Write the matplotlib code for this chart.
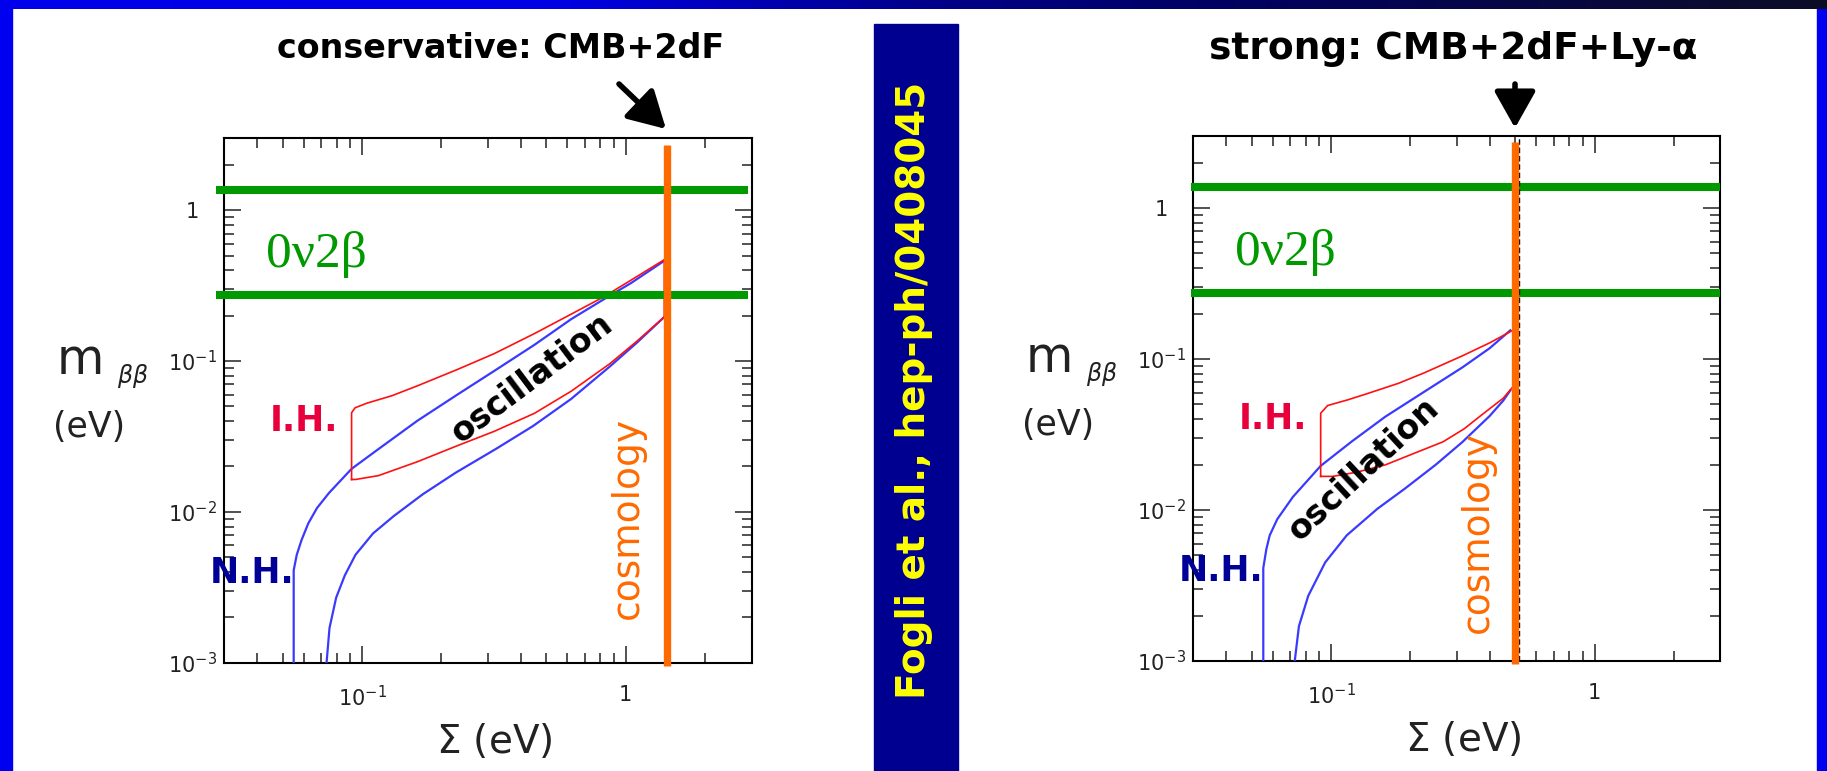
import numpy as np, matplotlib
matplotlib.use('Agg')
import matplotlib.pyplot as plt
from matplotlib.patches import Rectangle

W, H = 1827, 771

# 0nu2beta sensitivity band (eV)
bb_low, bb_high = 0.275, 1.37
# cosmological bounds on the sum of masses (eV)
sum_conservative = 1.43
sum_strong = 0.50
sum_strong_dashed = 0.515

# normal hierarchy band, CMB+2dF panel
nh_hi_cons_sum = [0.055, 0.055, 0.0565, 0.0589, 0.0625, 0.0674, 0.075, 0.0912, 0.115, 0.162, 0.23, 0.317, 0.45, 0.622, 0.82, 1.05, 1.40]
nh_hi_cons_m = [0.001, 0.0041, 0.0052, 0.0065, 0.0084, 0.0106, 0.0134, 0.0193, 0.026, 0.0402, 0.060, 0.086, 0.128, 0.19, 0.255, 0.33, 0.462]
nh_lo_cons_sum = [0.0733, 0.0752, 0.0797, 0.086, 0.0944, 0.11, 0.132, 0.17, 0.2265, 0.32, 0.444, 0.62, 0.87, 1.1, 1.40]
nh_lo_cons_m = [0.001, 0.0017, 0.0027, 0.0038, 0.0052, 0.0072, 0.0094, 0.0131, 0.0182, 0.026, 0.037, 0.056, 0.092, 0.132, 0.196]
# inverted hierarchy contour, CMB+2dF panel
ih_cons_sum = [0.0912, 0.0912, 0.094, 0.104, 0.13, 0.162, 0.23, 0.317, 0.45, 0.622, 0.82, 1.05, 1.40,
	1.40, 1.1, 0.87, 0.62, 0.45, 0.317, 0.2265, 0.162, 0.1154, 0.0944, 0.0912]
ih_cons_m = [0.0164, 0.0454, 0.049, 0.0525, 0.059, 0.0685, 0.088, 0.112, 0.152, 0.205, 0.265, 0.345, 0.47,
	0.196, 0.135, 0.096, 0.063, 0.045, 0.0342, 0.0272, 0.0215, 0.0174, 0.0164, 0.0164]

# normal hierarchy band, CMB+2dF+Ly-alpha panel
nh_hi_strong_sum = [0.0553, 0.0553, 0.0568, 0.0585, 0.0625, 0.0716, 0.0913, 0.12, 0.1606, 0.22, 0.315, 0.4, 0.479]
nh_hi_strong_m = [0.001, 0.00413, 0.0055, 0.0068, 0.0087, 0.0122, 0.0196, 0.0285, 0.0415, 0.059, 0.088, 0.118, 0.155]
nh_lo_strong_sum = [0.0728, 0.0755, 0.0819, 0.095, 0.1147, 0.15, 0.19, 0.25, 0.315, 0.4, 0.45, 0.479]
nh_lo_strong_m = [0.001, 0.0017, 0.0027, 0.0045, 0.0068, 0.0102, 0.0138, 0.020, 0.0282, 0.042, 0.053, 0.062]
# inverted hierarchy contour, CMB+2dF+Ly-alpha panel
ih_strong_sum = [0.0913, 0.0913, 0.097, 0.115, 0.1356, 0.18, 0.2246, 0.315, 0.4, 0.513,
	0.513, 0.45, 0.372, 0.32, 0.266, 0.2, 0.1606, 0.125, 0.1015, 0.0913]
ih_strong_m = [0.0167, 0.0437, 0.0492, 0.0535, 0.0586, 0.069, 0.0807, 0.105, 0.128, 0.162,
	0.0719, 0.055, 0.0425, 0.0345, 0.0283, 0.0232, 0.0199, 0.0178, 0.0167, 0.0167]

x_ticks = [0.1, 1]
x_tick_labels = [r'$10^{-1}$', '1']
y_ticks = [1e-3, 1e-2, 1e-1, 1]
y_tick_labels = [r'$10^{-3}$', r'$10^{-2}$', r'$10^{-1}$', '1']

GREEN = '#009a00'
ORANGE = '#ff6a00'
BLUE = '#3a3aff'
RED = '#ff1010'

def px(x, y):
	# pixel position (from top-left) to figure fraction
	return x / W, 1 - y / H

def draw_background(fig):
	# blue slide frame
	fig.add_artist(Rectangle((0, 0), 12 / W, 1, transform=fig.transFigure, color='#0000f0', zorder=0))
	fig.add_artist(Rectangle((1 - 10 / W, 0), 10 / W, 1, transform=fig.transFigure, color='#0000f0', zorder=0))
	# title bar fading from blue to navy
	bar = fig.add_axes([0, 1 - 9 / H, 1, 9 / H])
	xs = np.linspace(0, 1, 600)
	stops = [0, 0.3, 0.5, 0.65, 1]
	r = np.interp(xs, stops, [0, 0, 0.0, 0.0, 0.05])
	g = np.interp(xs, stops, [0, 0, 0.0, 0.0, 0.05])
	b = np.interp(xs, stops, [0.92, 0.9, 0.55, 0.4, 0.15])
	bar.imshow(np.dstack([r, g, b]), aspect='auto', extent=[0, 1, 0, 1])
	bar.axis('off')
	# reference band in the middle
	fig.add_artist(Rectangle((874 / W, 0), 84 / W, 1 - 24 / H, transform=fig.transFigure, color='#000090', zorder=0))
	x, y = px(914, 390)
	fig.text(x, y, 'Fogli et al., hep-ph/0408045', rotation=90, color='#ffff00', fontsize=28,
		fontweight='bold', ha='center', va='center')

def draw_panel(fig, rect, nh_hi, nh_lo, ih, sum_bound, bb_x, dashed=None):
	ax = fig.add_axes(rect)
	ax.set_xscale('log')
	ax.set_yscale('log')
	ax.set_xlim(0.03, 3)
	ax.set_ylim(1e-3, 3)

	# oscillation bands
	ax.plot(nh_hi[0], nh_hi[1], color=BLUE, lw=1.6, zorder=3)
	ax.plot(nh_lo[0], nh_lo[1], color=BLUE, lw=1.6, zorder=3)
	ax.plot(ih[0], ih[1], color=RED, lw=1.2, zorder=4)

	# 0nu2beta band edges
	for m in (bb_low, bb_high):
		ax.plot(bb_x, [m, m], color=GREEN, lw=5.8, solid_capstyle='butt', clip_on=False, zorder=5)

	# cosmology bound
	if dashed is not None:
		ax.plot([dashed, dashed], [1e-3, 3], color='k', lw=1, ls=(0, (4, 2)), zorder=5)
	ax.plot([sum_bound, sum_bound], [0.00095, 2.72], color=ORANGE, lw=5.3, solid_capstyle='butt',
		clip_on=False, zorder=6)

	ax.set_xticks(x_ticks)
	ax.set_xticklabels(x_tick_labels)
	ax.set_yticks(y_ticks)
	ax.set_yticklabels(y_tick_labels)
	ax.xaxis.set_minor_locator(matplotlib.ticker.LogLocator(base=10, subs=np.arange(2, 10)))
	ax.yaxis.set_minor_locator(matplotlib.ticker.LogLocator(base=10, subs=np.arange(2, 10)))
	ax.xaxis.set_minor_formatter(matplotlib.ticker.NullFormatter())
	ax.yaxis.set_minor_formatter(matplotlib.ticker.NullFormatter())
	ax.tick_params(which='both', direction='in', top=True, right=True, width=1.1, colors='#222222')
	ax.tick_params(which='major', length=12)
	ax.tick_params(which='minor', length=7)
	ax.tick_params(axis='x', pad=16, labelsize=15)
	ax.tick_params(axis='y', pad=23, labelsize=15)
	for lab in ax.get_yticklabels():
		lab.set_ha('center')
	for sp in ax.spines.values():
		sp.set_linewidth(1.5)
	return ax

def label_panel(fig, x0, y_shift):
	# axis titles and in-plot labels, offsets in pixels from left spine
	def t(x, y, s, **kw):
		fx, fy = px(x0 + x, y + y_shift)
		fig.text(fx, fy, s, ha='center', va='center', **kw)
	t(-144, 360, 'm', fontsize=35, color='#222222')
	t(-92, 376, r'$\beta\beta$', fontsize=17, color='#222222', fontweight='bold')
	t(-135, 427, '(eV)', fontsize=25, color='#222222')
	t(270, 741, r'$\Sigma$ (eV)', fontsize=28, color='#222222')
	t(92, 255, '0ν2β', fontsize=37, color=GREEN, family='Liberation Serif')
	t(80, 421, 'I.H.', fontsize=25, color='#e8003c', fontweight='bold')
	t(28, 573, 'N.H.', fontsize=25, color='#000099', fontweight='bold')

def main():
	fig = plt.figure(figsize=(W / 100, H / 100), dpi=100)
	fig.patch.set_facecolor('white')
	draw_background(fig)

	# CMB+2dF panel
	draw_panel(fig, [224.3 / W, (771 - 662.7) / H, 527.2 / W, 524.4 / H],
		(nh_hi_cons_sum, nh_hi_cons_m), (nh_lo_cons_sum, nh_lo_cons_m), (ih_cons_sum, ih_cons_m),
		sum_conservative, [0.0279, 2.9])
	label_panel(fig, 224.3, 0)
	x, y = px(501, 49)
	fig.text(x, y, 'conservative: CMB+2dF', fontsize=24, fontweight='bold', ha='center', va='center')
	x, y = px(532, 378)
	fig.text(x, y, 'oscillation', fontsize=24, fontweight='bold', rotation=37, ha='center', va='center',
		rotation_mode='anchor')
	x, y = px(628, 518)
	fig.text(x, y, 'cosmology', fontsize=27, color=ORANGE, rotation=90, ha='center', va='center')

	# CMB+2dF+Ly-alpha panel
	ax = draw_panel(fig, [1193.3 / W, (771 - 661) / H, 527 / W, 525 / H],
		(nh_hi_strong_sum, nh_hi_strong_m), (nh_lo_strong_sum, nh_lo_strong_m), (ih_strong_sum, ih_strong_m),
		sum_strong, [0.0295, 3.0], dashed=sum_strong_dashed)
	label_panel(fig, 1193.3, -2)
	x, y = px(1453, 49)
	fig.text(x, y, 'strong: CMB+2dF+Ly-α', fontsize=27, fontweight='bold', ha='center', va='center')
	x, y = px(1364, 469)
	fig.text(x, y, 'oscillation', fontsize=24, fontweight='bold', rotation=43, ha='center', va='center',
		rotation_mode='anchor')
	x, y = px(1478, 532)
	fig.text(x, y, 'cosmology', fontsize=27, color=ORANGE, rotation=90, ha='center', va='center')

	# arrows pointing at the bounds
	arrow = dict(arrowstyle='-|>,head_length=0.8,head_width=0.45', lw=4, color='k', mutation_scale=28,
		shrinkA=0, shrinkB=0)
	ax.annotate('', xy=(666, H - 129), xytext=(619, H - 84), xycoords='figure pixels',
		textcoords='figure pixels', arrowprops=arrow, annotation_clip=False)
	ax.annotate('', xy=(1515, H - 128), xytext=(1515, H - 84), xycoords='figure pixels',
		textcoords='figure pixels', arrowprops=arrow, annotation_clip=False)

	fig.savefig('out.png', dpi=100)

if __name__ == '__main__':
	main()
